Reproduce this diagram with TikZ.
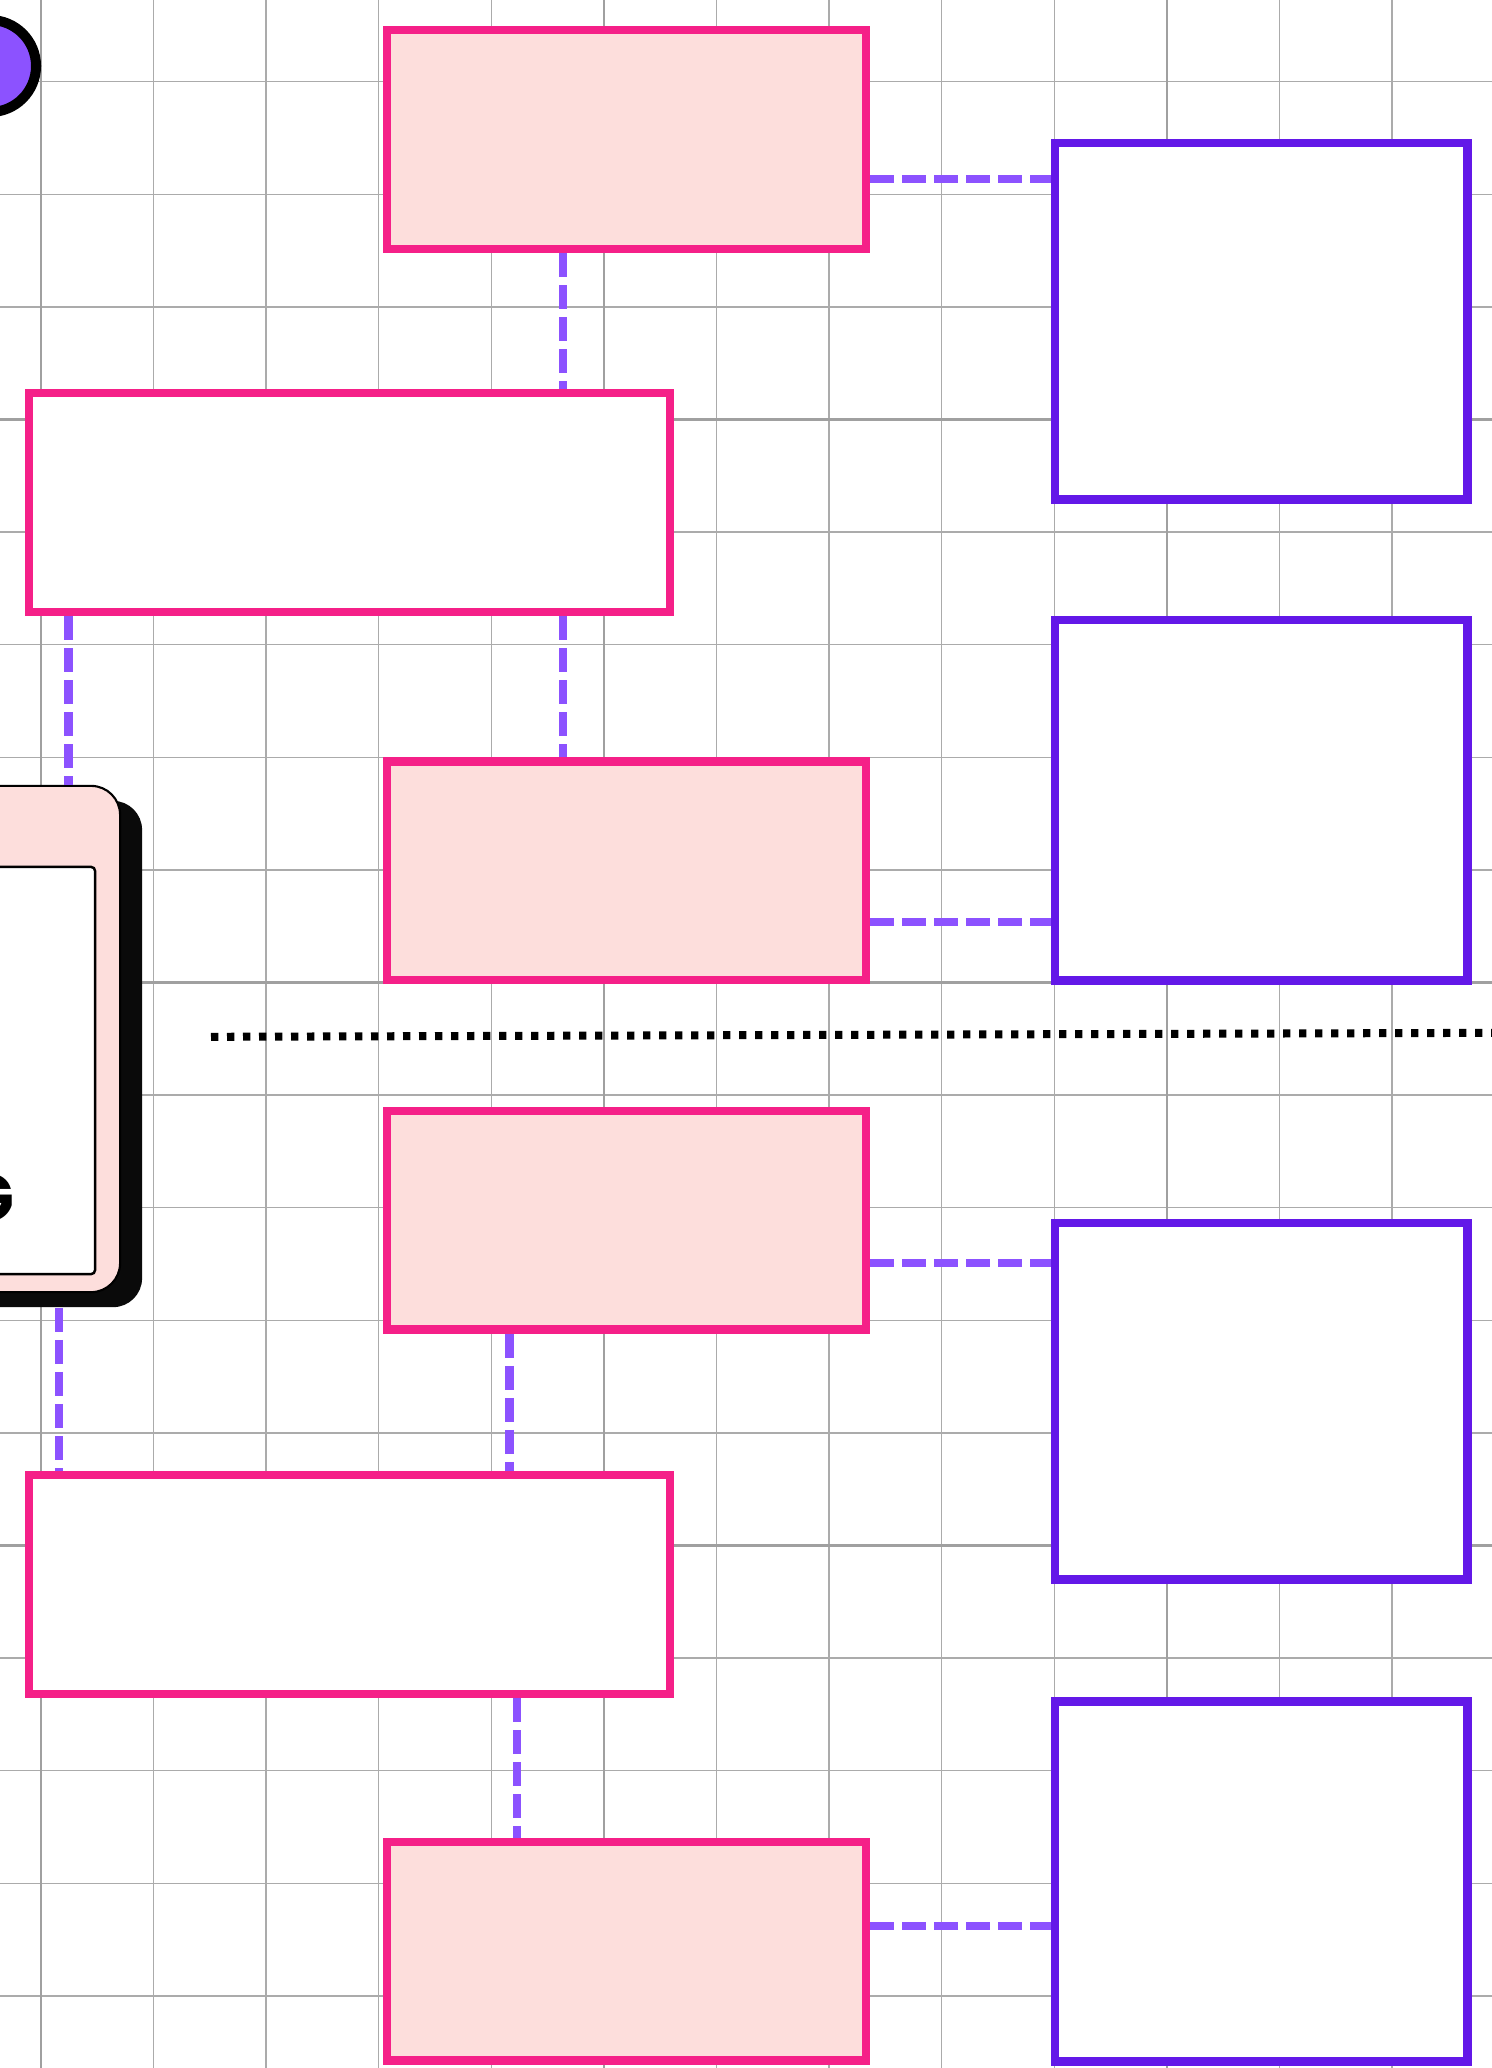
\documentclass[tikz,border=0pt]{standalone}
\usepackage{fontspec}
\newfontfamily\cardfont{Poppins}
\usetikzlibrary{calc}
\definecolor{pinkline}{HTML}{F52088}
\definecolor{pinkfill}{HTML}{FDDEDC}
\definecolor{violetline}{HTML}{6318E8}
\definecolor{connpurple}{HTML}{8C52FF}
\definecolor{gridminor}{HTML}{ABABAB}
\definecolor{gridmajor}{HTML}{A0A0A0}
\definecolor{shadowblack}{HTML}{0A0A0A}
\begin{document}
\begin{tikzpicture}[x=0.01cm,y=-0.01cm,
  gridmin/.style={draw=gridminor, line width=0.4pt},
  gridmaj/.style={draw=gridmajor, line width=0.65pt},
  pinkbox/.style={rectangle, draw=pinkline, line width=2.36pt, fill=pinkfill, inner sep=0pt, minimum height=2.185cm},
  pinkwhite/.style={pinkbox, fill=white},
  violetbox/.style={rectangle, draw=violetline, line width=2.4pt, fill=white, inner sep=0pt, minimum width=4.123cm},
  conn/.style={draw=connpurple, line width=2.28pt, dash pattern=on 6.83pt off 2.28pt},
  dotline/.style={draw=black, line width=2.28pt, dash pattern=on 2.08pt off 2.47pt},
  cardbody/.style={rectangle, draw=black, line width=0.6pt, fill=pinkfill, rounded corners=0.29cm, inner sep=0pt, minimum width=3.2cm, minimum height=5.06cm},
  cardshadow/.style={rectangle, fill=shadowblack, rounded corners=0.29cm, inner sep=0pt, minimum width=3.2cm, minimum height=5.06cm},
  cardinner/.style={rectangle, draw=black, line width=0.7pt, fill=white, rounded corners=0.04cm, inner sep=0pt, minimum width=2.7cm, minimum height=4.07cm}
]
\useasboundingbox[fill=white] (0,0) rectangle (1492,2068);

% grid
\foreach \i in {0,...,12}{
  \draw[gridmin] ({40.9+112.6*\i},0) -- ({40.9+112.6*\i},2068);
}
\foreach \j in {-3,...,14}{
  \draw[gridmin] (0,{419.5+112.6*\j}) -- (1492,{419.5+112.6*\j});
}
\foreach \gx in {40.9,603.9,1166.9}{
  \draw[gridmaj] (\gx,0) -- (\gx,2068);
}
\foreach \gy in {419.5,982.5,1545.5}{
  \draw[gridmaj] (0,\gy) -- (1492,\gy);
}

% dot at top left
\node[circle, draw=black, fill=connpurple, line width=2.85pt, minimum size=0.92cm, inner sep=0pt] (topdot) at (-10,66) {};

% pink boxes
\node[pinkbox, minimum width=4.79cm] (P1) at (626.5,139.5) {};
\node[pinkwhite, minimum width=6.403cm] (P2) at (349.5,502.5) {};
\node[pinkbox, minimum width=4.79cm] (P3) at (626.5,870.7) {};
\node[pinkbox, minimum width=4.79cm] (P4) at (626.5,1220.3) {};
\node[pinkwhite, minimum width=6.403cm] (P5) at (349.5,1584.6) {};
\node[pinkbox, minimum width=4.79cm] (P6) at (626.5,1951.3) {};

% violet boxes
\node[violetbox, minimum height=3.56cm] (Q1) at (1261.3,321.2) {};
\node[violetbox, minimum height=3.60cm] (Q2) at (1261.3,800.2) {};
\node[violetbox, minimum height=3.56cm] (Q3) at (1261.3,1401.2) {};
\node[violetbox, minimum height=3.60cm] (Q4) at (1261.3,1881.5) {};

% card
\node[cardshadow] (cshadow) at (-18,1054) {};
\node[cardbody] (card) at (-40,1039) {};
\node[cardinner] (cardin) at (-40,1070.5) {};
\node[anchor=east, inner sep=0pt, font=\cardfont\bfseries\fontsize{19}{22}\selectfont] (glabel) at (15.5,1197.5) {G};

% connectors
\draw[conn] (P1.east |- 0,178.5) -- (Q1.west |- 0,178.5);
\draw[conn] (P1.south -| 562.6,0) -- (P2.north -| 562.6,0);
\draw[conn] (P2.south -| 562.6,0) -- (P3.north -| 562.6,0);
\draw[conn] (P2.south -| 68.5,0) -- (card.north -| 68.5,0);
\draw[conn] (P3.east |- 0,922) -- (Q2.west |- 0,922);
\draw[conn] (P4.east |- 0,1262.7) -- (Q3.west |- 0,1262.7);
\draw[conn] (P4.south -| 509.5,0) -- (P5.north -| 509.5,0);
\draw[conn] (cshadow.south -| 58.8,0) -- (P5.north -| 58.8,0);
\draw[conn] (P5.south -| 517.4,0) -- (P6.north -| 517.4,0);
\draw[conn] (P6.east |- 0,1926) -- (Q4.west |- 0,1926);

% dotted separator
\coordinate (sepL) at (211,1036.8);
\coordinate (sepR) at (1500,1032.8);
\draw[dotline] (sepL) -- (sepR);
\end{tikzpicture}
\end{document}
